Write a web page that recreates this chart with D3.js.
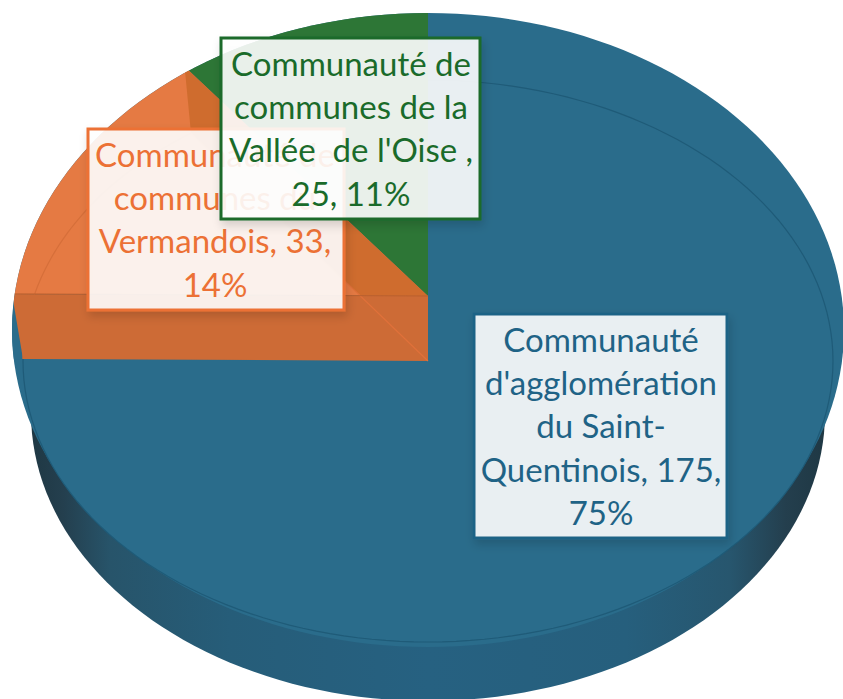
<!DOCTYPE html>
<html><head><meta charset="utf-8">
<script src="https://cdn.jsdelivr.net/npm/d3@7/dist/d3.min.js"></script>
<style>html,body{margin:0;padding:0;background:#fff;overflow:hidden}svg{display:block}text{white-space:pre}</style>
</head><body><div id="c"></div>
<script>
const categories = ["Communauté d'agglomération du Saint-Quentinois", "Communauté de communes du Vermandois", "Communauté de communes de la Vallée  de l'Oise "];
const values = [175, 33, 25];
const percents = ["75%", "14%", "11%"];
const labelLines = [
  ["Communauté", "d'agglomération", "du Saint-", "Quentinois, 175,", "75%"],
  ["Communauté de", "communes du", "Vermandois, 33,", "14%"],
  ["Communauté de", "communes de la", "Vallée  de l'Oise ,", "25, 11%"]
];
const faceColors = ["#2A6C8B", "#E57A43", "#2D7636"];
const wallColors = ["#2A6C8B", "#CD6B36", "#2D7636"];
const textColors = ["#1F6386", "#EC7135", "#1A6B2A"];
const boxes = [
  {x:474,y:314,w:253,h:224,first:352,step:43.2,cx:601},
  {x:88,y:129,w:256,h:181,first:167,step:43.2,cx:215},
  {x:221,y:38,w:259,h:181,first:76,step:43.2,cx:351}
];
const W=843,H=699, cx=428;
const apex={y:296,rx:416,ry:283}, face={y:361,rx:405,ry:281}, base={y:413,rx:397,ry:288}, outline={y:330,rx:416,ry:317};
const warp=a=>Math.atan2(0.903*Math.sin(a),Math.cos(a));
const pt=(e,a,s=1)=>{const t=warp(a);return [cx+s*e.rx*Math.sin(t), e.y-s*e.ry*Math.cos(t)];};
const svg=d3.select("#c").append("svg").attr("width",W).attr("height",H);
const defs=svg.append("defs");
const line=d3.line();
const ell=(e)=>line(d3.range(0,361,2).map(d=>{const a=d*Math.PI/180;return [cx+e.rx*Math.sin(a),e.y-e.ry*Math.cos(a)];}))+"Z";
const arcPts=(e,a0,a1,s=1,n=60)=>d3.range(n+1).map(i=>pt(e,a0+(a1-a0)*i/n,s));

const grad=defs.append("linearGradient").attr("id","side").attr("x1",0).attr("x2",1).attr("y1",0).attr("y2",0);
[[0,"#1F3844"],[.04,"#243F4E"],[.1,"#27546A"],[.25,"#265D79"],[.5,"#266181"],[.75,"#265F7D"],[.88,"#27566E"],[.95,"#243F4E"],[1,"#1F3844"]]
 .forEach(s=>grad.append("stop").attr("offset",s[0]).attr("stop-color",s[1]));
defs.append("clipPath").attr("id","sil").append("path").attr("d",ell(outline));
const sh=defs.append("filter").attr("id","shadow").attr("x","-10%").attr("y","-10%").attr("width","125%").attr("height","125%");
sh.append("feDropShadow").attr("dx",2).attr("dy",5).attr("stdDeviation",5).attr("flood-color","#000").attr("flood-opacity",.16);

const pie=d3.pie().sort(null).value(d=>d);
const arcs=pie(values);

// side wall, silhouette, top face
svg.append("path").attr("d",ell(base)).attr("fill","url(#side)");
svg.append("path").attr("d",ell(outline)).attr("fill",faceColors[0]);
svg.append("path").attr("d",ell(face)).attr("fill",faceColors[0]).attr("stroke","#1F5B78").attr("stroke-width",1.2);

const g=svg.append("g").attr("clip-path","url(#sil)");
// back slices: wedge from the raised apex, clipped by the silhouette
arcs.slice(1).forEach(d=>{
  const i=d.index;
  g.append("path").attr("d",line([[cx,apex.y],...arcPts(apex,d.startAngle,d.endAngle,1.4)])+"Z").attr("fill",faceColors[i]);
});
// the orange slice only starts at the raised edge: keep the strip below it blue
g.append("path").attr("d",line([pt(apex,arcs[0].endAngle),pt(face,arcs[0].endAngle),[-20,face.y],[-20,apex.y]])+"Z").attr("fill",faceColors[0]);
// inner arc of the orange face
g.append("path").attr("d",line(arcPts(face,arcs[1].startAngle,arcs[1].endAngle))).attr("fill","none").attr("stroke","#D66F3A").attr("stroke-width",1.2);
// radial cut walls
const wall=(a,col)=>g.append("path").attr("d",line([pt(apex,a),[cx,apex.y],[cx,face.y],pt(face,a)])+"Z").attr("fill",col);
wall(arcs[1].endAngle,"#CF6C2E");
wall(arcs[0].endAngle,wallColors[1]);
g.append("path").attr("d",line([[cx,face.y],pt(face,arcs[1].endAngle)])).attr("stroke","#E0713A").attr("stroke-width",1.2);
g.append("path").attr("d",line([[cx,apex.y],pt(apex,arcs[0].endAngle)])).attr("stroke","#B9602F").attr("stroke-width",1);

// data labels
[1,0,2].forEach(i=>{
  const b=boxes[i];
  const l=svg.append("g");
  l.append("rect").attr("x",b.x).attr("y",b.y).attr("width",b.w).attr("height",b.h)
    .attr("fill","#fff").attr("fill-opacity",.89).attr("stroke",textColors[i]).attr("stroke-width",3)
    .attr("filter","url(#shadow)");
  l.selectAll("text").data(labelLines[i]).join("text")
    .attr("x",b.cx).attr("y",(d,k)=>b.first+k*b.step)
    .attr("text-anchor","middle").attr("font-family","Lato, sans-serif").attr("font-size",33)
    .attr("fill",textColors[i]).text(d=>d);
});
</script></body></html>
